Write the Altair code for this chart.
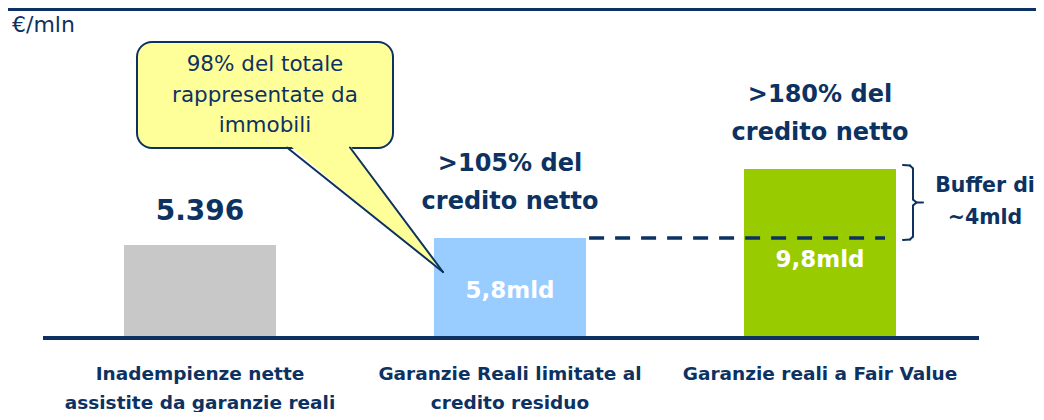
import altair as alt
import pandas as pd

# ---------------- data ----------------
categories = [
    "Inadempienze nette\nassistite da garanzie reali",
    "Garanzie Reali limitate al\ncredito residuo",
    "Garanzie reali a Fair Value",
]
values_bn = [5.396, 5.8, 9.8]          # bar heights (bn)
top_labels = ["5.396", ">105% del\ncredito netto", ">180% del\ncredito netto"]
inner_labels = ["", "5,8mld", "9,8mld"]
bar_colors = ["#c8c8c8", "#99ccff", "#99cc00"]
unit_label = "€/mln"
callout_text = "98% del totale\nrappresentate da\nimmobili"
buffer_text = "Buffer di\n~4mld"

# ---------------- layout / style ----------------
NAVY = "#0d3262"
YELLOW = "#ffff99"
FONT = "DejaVu Sans"
W, H = 1028, 404
X_STEP, X_FIRST = 310.0, 192.0
Y_K, BASE = 17.25, 330.0
BAR_HALF = 76.0 / X_STEP
x_dom = [-X_FIRST / X_STEP, (W - X_FIRST) / X_STEP]
y_dom = [-(H - BASE) / Y_K, BASE / Y_K]


def dx(px):
    return (px - 8 - X_FIRST) / X_STEP


def dy(py):
    return (BASE - (py - 8)) / Y_K


def vpy(v):  # value -> page py
    return BASE + 8 - v * Y_K


xs = alt.Scale(domain=x_dom, nice=False, zero=False)
ys = alt.Scale(domain=y_dom, nice=False, zero=False)


def X(f):
    return alt.X(f, scale=xs, axis=None)


def Y(f):
    return alt.Y(f, scale=ys, axis=None)


bars = pd.DataFrame({
    "idx": list(range(len(categories))),
    "cat": categories,
    "value": values_bn,
    "color": bar_colors,
    "top": top_labels,
    "inner": inner_labels,
})
bars["x_lo"] = bars["idx"] - BAR_HALF
bars["x_hi"] = bars["idx"] + BAR_HALF
bars["zero"] = 0.0

base = alt.Chart(bars)

bar_layer = base.mark_rect().encode(
    x=X("x_lo:Q"), x2="x_hi:Q", y=Y("value:Q"), y2="zero:Q",
    color=alt.Color("color:N", scale=None),
)


def seg_layer(segs, width, dash=None, cap="round"):
    df = pd.DataFrame(segs, columns=["a", "b", "c", "d"])
    kw = dict(color=NAVY, strokeWidth=width, strokeCap=cap)
    if dash:
        kw["strokeDash"] = dash
    return alt.Chart(df).mark_rule(**kw).encode(x=X("a:Q"), y=Y("b:Q"), x2="c:Q", y2="d:Q")


def poly_segs(pts_px):
    out = []
    for (x1, y1), (x2, y2) in zip(pts_px[:-1], pts_px[1:]):
        out.append((dx(x1), dy(y1), dx(x2), dy(y2)))
    return out


baseline = seg_layer([(dx(43), 0.0, dx(979), 0.0)], 4, cap="butt")
topline = seg_layer([(x_dom[0], (BASE - 1.5) / Y_K, x_dom[1], (BASE - 1.5) / Y_K)], 3, cap="butt")
dash = seg_layer([(1 + BAR_HALF + 0.01, values_bn[1], dx(885), values_bn[1])], 3.5,
                 dash=[15, 11], cap="butt")

# brace from top of bar 3 down to the dashed line
bt = vpy(values_bn[2]) - 4
bb = vpy(values_bn[1]) + 2
bm = (bt + bb) / 2
brace_pts = [(903, bt), (910, bt + 0.5), (913, bt + 3.5), (913, bm - 3), (916.5, bm),
             (923, bm)]
brace_pts2 = [(916.5, bm), (913, bm + 3), (913, bb - 3.5), (910, bb - 0.5), (903, bb)]
brace = seg_layer(poly_segs(brace_pts) + poly_segs(brace_pts2), 2)

# callout box with pointer
box = alt.Chart(pd.DataFrame({
    "a": [dx(137)], "b": [dx(393)], "y1": [dy(42)], "y2": [dy(148)]
})).mark_rect(fill=YELLOW, stroke=NAVY, strokeWidth=2, cornerRadius=15).encode(
    x=X("a:Q"), x2="b:Q", y=Y("y1:Q"), y2="y2:Q"
)
tail_fill = alt.Chart(pd.DataFrame({
    "x": [dx(288), dx(349), dx(443)],
    "y": [dy(144), dy(144), dy(272)],
    "y2": [dy(144), dy(195.5), dy(272)],
})).mark_area(fill=YELLOW, orient="vertical").encode(
    x=X("x:Q"), y=Y("y:Q"), y2="y2:Q"
)
tail_line = seg_layer(poly_segs([(287, 147.5), (443, 272), (350, 147.5)]), 2)

texts = []
texts.append(base.mark_text(
    font=FONT, fontSize=18.5, fontWeight="bold", color=NAVY, baseline="top",
    align="center", lineBreak="\n", lineHeight=28.5, dy=27
).encode(x=X("idx:Q"), y=Y("zero:Q"), text="cat:N"))

texts.append(base.transform_filter("datum.idx == 0").mark_text(
    font=FONT, fontSize=28, fontWeight="bold", color=NAVY, baseline="middle", dy=-33
).encode(x=X("idx:Q"), y=Y("value:Q"), text="top:N"))

texts.append(base.transform_filter("datum.idx > 0").mark_text(
    font=FONT, fontSize=24, fontWeight="bold", color=NAVY, baseline="bottom",
    lineBreak="\n", lineHeight=38, dy=-62
).encode(x=X("idx:Q"), y=Y("value:Q"), text="top:N"))

for i, off in [(1, 53), (2, 91)]:
    texts.append(base.transform_filter(f"datum.idx == {i}").mark_text(
        font=FONT, fontSize=23, fontWeight="bold", color="white", baseline="middle", dy=off
    ).encode(x=X("idx:Q"), y=Y("value:Q"), text="inner:N"))


def note(txt, px, py, size, weight, align="center", baseline="top", lh=30):
    return alt.Chart(pd.DataFrame({"x": [dx(px)], "y": [dy(py)], "t": [txt]})).mark_text(
        font=FONT, fontSize=size, fontWeight=weight, color=NAVY, align=align,
        baseline=baseline, lineBreak="\n", lineHeight=lh
    ).encode(x=X("x:Q"), y=Y("y:Q"), text="t:N")


texts.append(note(unit_label, 12, 25, 22, "normal", align="left", baseline="middle"))
texts.append(note(callout_text, 265, 54, 21.5, "normal", lh=30.5))
texts.append(note(buffer_text, 985, 176, 20.5, "bold", lh=32))

chart = alt.layer(
    topline, bar_layer, dash, brace, box, tail_fill, tail_line, baseline, *texts
).properties(
    width=W, height=H, padding=0, autosize=alt.AutoSizeParams(type="none")
).configure_view(stroke=None)

chart.save("out.html", embed_options={"renderer": "svg", "actions": False})
